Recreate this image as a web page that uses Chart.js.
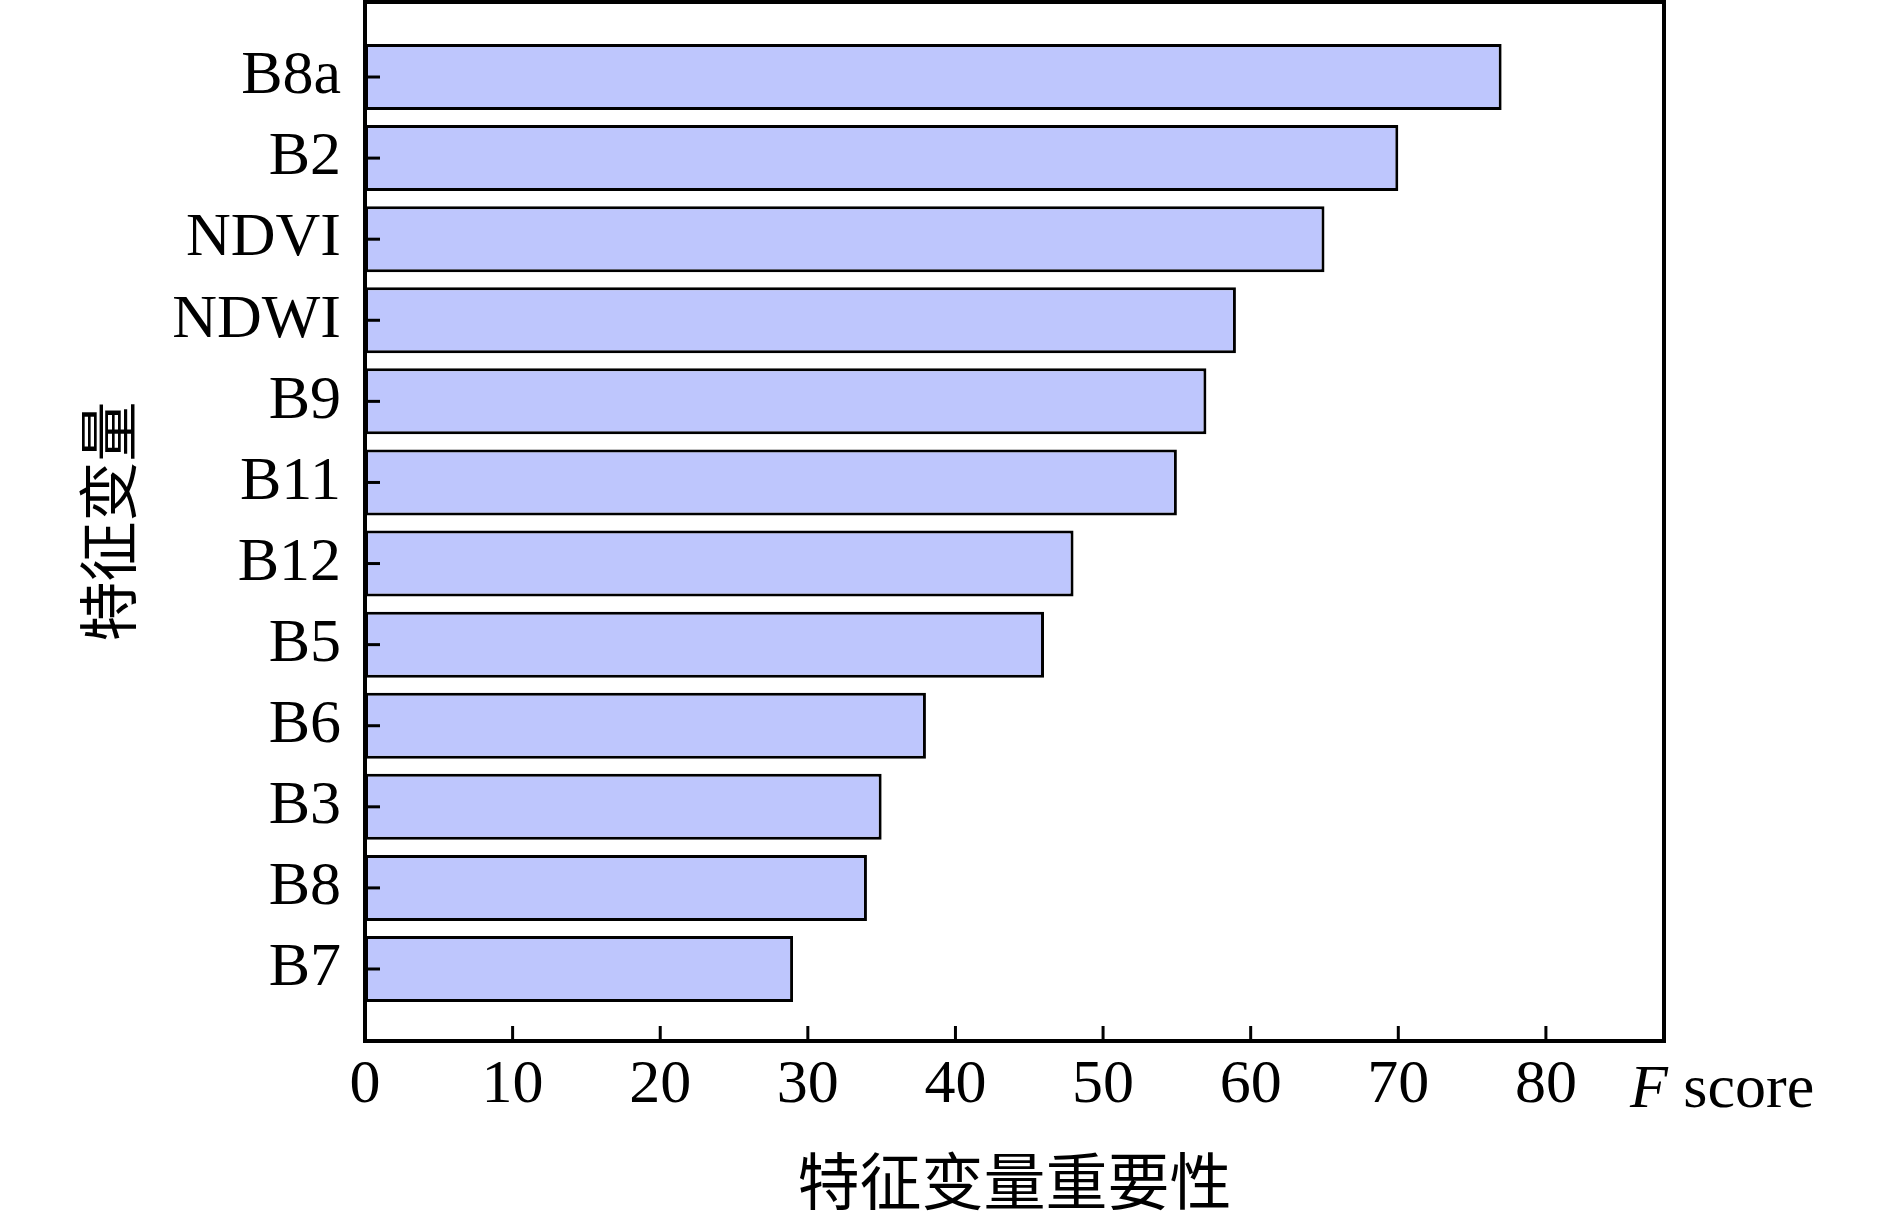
<!DOCTYPE html>
<html>
<head>
<meta charset="utf-8">
<script src="https://cdn.jsdelivr.net/npm/chart.js@4/dist/chart.umd.min.js"></script>
<style>
  html, body { margin: 0; padding: 0; background: #ffffff; }
  #wrap { width: 1890px; height: 1220px; }
</style>
</head>
<body>
<div id="wrap"><canvas id="c" width="1890" height="1220"></canvas></div>
<script>
// ---- data ----
const categories = ['B8a', 'B2', 'NDVI', 'NDWI', 'B9', 'B11', 'B12', 'B5', 'B6', 'B3', 'B8', 'B7'];
const fScores = [77, 70, 65, 59, 57, 55, 48, 46, 38, 35, 34, 29];
const xTickValues = [0, 10, 20, 30, 40, 50, 60, 70, 80];
const xAxisMax = 88;
const xTitle = '特征变量重要性';
const yTitle = '特征变量';
const unitItalic = 'F';
const unitRest = ' score';

const latin = '"Liberation Serif", "Times New Roman", serif';
const cjk = '"Noto Sans CJK SC", sans-serif';

const framePlugin = {
  id: 'frameAndTicks',
  afterDatasetsDraw(chart) {
    const { ctx, chartArea: a, scales } = chart;
    ctx.save();
    ctx.strokeStyle = '#000';
    ctx.lineWidth = 3;
    // inward x ticks
    xTickValues.forEach(v => {
      if (v === 0) return;
      const px = scales.x.getPixelForValue(v);
      ctx.beginPath();
      ctx.moveTo(px, a.bottom);
      ctx.lineTo(px, a.bottom - 15);
      ctx.stroke();
    });
    // inward y ticks
    categories.forEach((c, i) => {
      const py = scales.y.getPixelForValue(i);
      ctx.beginPath();
      ctx.moveTo(a.left, py);
      ctx.lineTo(a.left + 15, py);
      ctx.stroke();
    });
    // frame
    ctx.lineWidth = 4;
    ctx.strokeRect(a.left, a.top, a.right - a.left, a.bottom - a.top);
    ctx.restore();
  },
  afterDraw(chart) {
    const { ctx, chartArea: a } = chart;
    ctx.save();
    ctx.fillStyle = '#000';
    // x title
    ctx.font = '62px ' + cjk;
    ctx.textAlign = 'center';
    ctx.textBaseline = 'middle';
    ctx.fillText(xTitle, (a.left + a.right) / 2, 1181);
    // y title
    ctx.save();
    ctx.translate(108, (a.top + a.bottom) / 2);
    ctx.rotate(-Math.PI / 2);
    ctx.font = '60px ' + cjk;
    ctx.fillText(yTitle, 0, 0);
    ctx.restore();
    // unit label "F score"
    ctx.textAlign = 'left';
    ctx.textBaseline = 'alphabetic';
    ctx.font = 'italic 62px ' + latin;
    const x0 = 1630;
    ctx.fillText(unitItalic, x0, 1107);
    const w = ctx.measureText(unitItalic).width;
    ctx.font = '62px ' + latin;
    ctx.fillText(unitRest, x0 + w, 1107);
    ctx.restore();
  }
};

function noPad(s) {
  s.paddingTop = 0; s.paddingBottom = 0; s.paddingLeft = 0; s.paddingRight = 0;
}

new Chart(document.getElementById('c'), {
  type: 'bar',
  data: {
    datasets: [{
      data: fScores.map((v, i) => ({ x: v, y: i })),
      backgroundColor: '#BEC6FD',
      borderColor: '#000000',
      borderWidth: 3,
      borderSkipped: false,
      categoryPercentage: 1.0,
      barPercentage: 0.814
    }]
  },
  options: {
    indexAxis: 'y',
    responsive: false,
    devicePixelRatio: 1,
    animation: false,
    layout: { padding: { left: 0, top: 2, right: 226, bottom: 0 } },
    plugins: { legend: { display: false }, tooltip: { enabled: false } },
    scales: {
      x: {
        type: 'linear',
        position: 'bottom',
        offset: false,
        min: 0,
        max: xAxisMax,
        grid: { display: false, drawTicks: false },
        border: { display: false },
        afterBuildTicks: s => { s.ticks = xTickValues.map(v => ({ value: v })); },
        afterFit: s => { s.height = 179; noPad(s); },
        ticks: {
          color: '#000',
          padding: 8,
          maxRotation: 0,
          font: { family: latin, size: 62, lineHeight: 1.2 }
        }
      },
      y: {
        type: 'linear',
        position: 'left',
        offset: false,
        reverse: true,
        min: -0.925,
        max: 11.888,
        grid: { display: false, drawTicks: false, offset: false },
        border: { display: false },
        afterBuildTicks: s => { s.ticks = categories.map((c, i) => ({ value: i })); },
        afterFit: s => { s.width = 365; noPad(s); },
        ticks: {
          color: '#000',
          padding: 24,
          autoSkip: false,
          callback: v => categories[v] !== undefined ? categories[v] : '',
          font: { family: latin, size: 62, lineHeight: 1.2 }
        }
      }
    }
  },
  plugins: [framePlugin]
});
</script>
</body>
</html>
